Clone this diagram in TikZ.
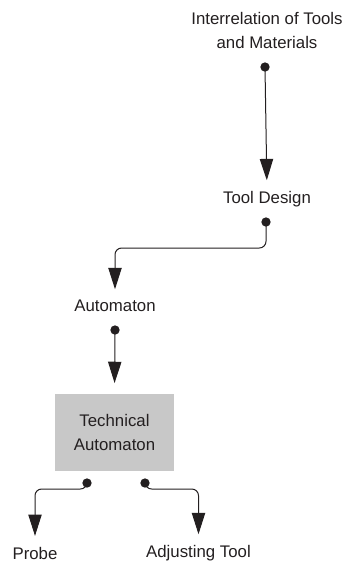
\documentclass[tikz,border=0pt]{standalone}
\usepackage{fontspec}
\setmainfont{Liberation Sans}
\usepackage{tikz}
\usetikzlibrary{calc,positioning,arrows.meta}
\definecolor{inkgray}{RGB}{35,31,32}
\definecolor{boxgray}{RGB}{200,200,200}

\tikzset{
  lbl/.style={font=\fontsize{12.6}{18}\selectfont, align=center, inner sep=0pt, text=inkgray},
  port/.style={circle, fill=inkgray, inner sep=0pt, minimum size=7pt},
  link/.style={line width=0.75pt, draw=inkgray, rounded corners=5pt,
    -{Triangle[length=16pt,width=10pt]}, shorten >=8pt}
}

\begin{document}
\begin{tikzpicture}[x=0.75pt,y=-0.75pt]
    \useasboundingbox (0,0) rectangle (345,562);

    % Draw labels
    \node[lbl] (interrel) at (267,30) {Interrelation of Tools\\and Materials};
    \node[lbl] (tooldesign) at (267,199) {Tool Design};
    \node[lbl] (automaton) at (115,306) {Automaton};
    \node[lbl, fill=boxgray, minimum width=89.25pt, minimum height=57.75pt]
        (techauto) at (114.5,432.5) {Technical\\Automaton};
    \node[lbl] (probe) at (35,553) {Probe};
    \node[lbl] (adjusting) at (198.5,553) {Adjusting Tool};

    % Draw output dots
    \node[port] (p1) at (265,67) {};
    \node[port] (p2) at (266,222) {};
    \node[port] (p3) at (115,330) {};
    \node[port] (p4) at (87,483) {};
    \node[port] (p5) at (145,483) {};

    % Draw connectors
    \draw[link] (p1.center) -- (tooldesign.north);
    \draw[link] (p2.center) -- ++(0,26) -| (automaton.north);
    \draw[link] (p3.center) -- (techauto.north);
    \draw[link] (p4.center) -- ++(0,6) -| (probe.north);
    \draw[link] (p5.center) -- ++(0,6) -| (adjusting.north);
\end{tikzpicture}
\end{document}
